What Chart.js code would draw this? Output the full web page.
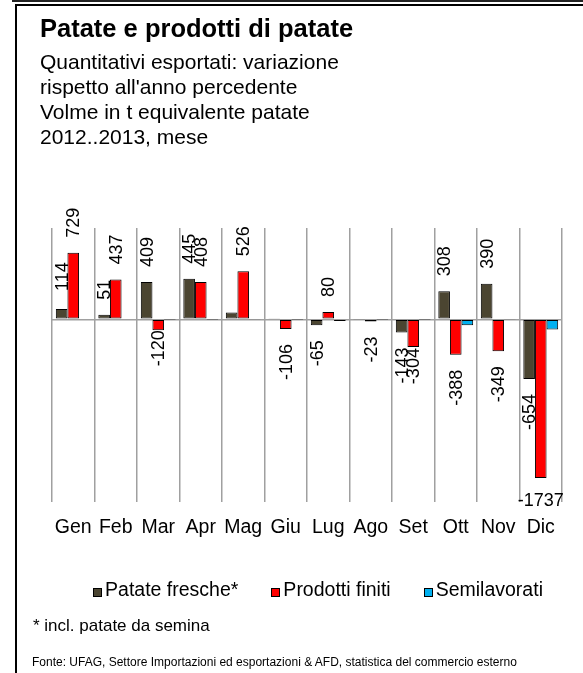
<!DOCTYPE html>
<html><head><meta charset="utf-8">
<script src="https://cdn.jsdelivr.net/npm/chart.js@4.4.0/dist/chart.umd.min.js"></script>
<style>
html,body{margin:0;padding:0;background:#fff;}
body{width:583px;height:673px;position:relative;overflow:hidden;font-family:"Liberation Sans",Arial,sans-serif;color:#000;}
#frameOuter{position:absolute;left:12px;top:0;width:571px;height:2px;background:#222;}
#frameInner{position:absolute;left:15px;top:4px;width:580px;height:700px;border-top:2px solid #000;border-left:2px solid #000;}
#wrap{position:absolute;left:0;top:0;width:583px;height:673px;}
.t{position:absolute;left:40px;white-space:nowrap;}
#title{top:12.7px;font-size:25.5px;font-weight:bold;line-height:30px;}
#sub{top:48.5px;font-size:21px;line-height:25px;}
#note{position:absolute;left:33px;top:616px;font-size:17px;line-height:20px;white-space:nowrap;}
#src{position:absolute;left:32px;top:655px;font-size:12px;line-height:14px;white-space:nowrap;}
</style></head><body>
<div id="frameOuter"></div>
<div id="frameInner"></div>
<div id="wrap"><canvas id="c" width="583" height="673"></canvas></div>
<div class="t" id="title">Patate e prodotti di patate</div>
<div class="t" id="sub">Quantitativi esportati: variazione<br>rispetto all'anno percedente<br>Volme in t equivalente patate<br>2012..2013, mese</div>
<div id="note">* incl. patate da semina</div>
<div id="src">Fonte: UFAG, Settore Importazioni ed esportazioni &amp; AFD, statistica del commercio esterno</div>
<script>
const months = ['Gen','Feb','Mar','Apr','Mag','Giu','Lug','Ago','Set','Ott','Nov','Dic'];
const seriesNames = ['Patate fresche*','Prodotti finiti','Semilavorati'];
const patateFresche = [114, 51, 409, 445, 75, 12, -65, -4, -143, 308, 390, -654];
const prodottiFiniti = [729, 437, -120, 408, 526, -106, 80, -23, -304, -388, -349, -1737];
const semilavorati = [-8, -7, -2, -1, -4, -2, -17, -2, -3, -65, -4, -112];
const labelsFresche = ['114','51','409','445',null,null,'-65',null,'-143','308','390','-654'];
const labelsFiniti = ['729','437','-120','408','526','-106','80','-23','-304','-388','-349','-1737'];
const labelsSemi = [null,null,null,null,null,null,null,null,null,null,null,null];
const yMin = -2000, yMax = 1000;

const colors = ['#4b4531','#ff0000','#00b0f0'];
const FONT = '"Liberation Sans", Arial, sans-serif';

// label placement tweaks (style only)
const labelTweaks = { '0:0': {gap: 18}, '1:2': {gap: 0}, '1:8': {gap: 1}, '1:11': {horizontal: true, gap: 23} };

const dataLabels = {
  id: 'dataLabels',
  afterDatasetsDraw(chart) {
    const ctx = chart.ctx;
    ctx.save();
    ctx.font = '18px ' + FONT;
    ctx.fillStyle = '#000';
    chart.data.datasets.forEach((ds, di) => {
      const meta = chart.getDatasetMeta(di);
      ds.valueLabels.forEach((txt, i) => {
        if (txt == null) return;
        const el = meta.data[i];
        const v = ds.data[i];
        const tw = labelTweaks[di + ':' + i] || {};
        const gap = tw.gap != null ? tw.gap : 15;
        if (tw.horizontal) {
          ctx.textAlign = 'center'; ctx.textBaseline = 'middle';
          ctx.fillText(txt, el.x, el.y + gap);
          return;
        }
        ctx.save();
        ctx.translate(el.x, el.y);
        ctx.rotate(-Math.PI / 2);
        ctx.textBaseline = 'middle';
        if (v >= 0) { ctx.textAlign = 'left'; ctx.fillText(txt, gap, 1); }
        else { ctx.textAlign = 'right'; ctx.fillText(txt, -gap, 1); }
        ctx.restore();
      });
    });
    ctx.restore();
  }
};

// legend drawn from the chart's own datasets
const customLegend = {
  id: 'customLegend',
  afterDraw(chart, args, o) {
    const ctx = chart.ctx;
    ctx.save();
    ctx.font = o.fontSize + 'px ' + FONT;
    const items = chart.data.datasets.map(ds => ({ text: ds.label, color: ds.backgroundColor, w: ctx.measureText(ds.label).width }));
    const total = items.reduce((s, it) => s + o.box + o.boxGap + it.w, 0) + o.itemGap * (items.length - 1);
    let x = o.centerX - total / 2;
    const y = o.centerY;
    items.forEach(it => {
      const by = Math.round(y - o.box / 2 + 1);
      const bx = Math.round(x);
      ctx.fillStyle = it.color; ctx.fillRect(bx, by, o.box, o.box);
      ctx.strokeStyle = '#000'; ctx.lineWidth = 1; ctx.strokeRect(bx + 0.5, by + 0.5, o.box - 1, o.box - 1);
      x += o.box + o.boxGap;
      ctx.fillStyle = '#000'; ctx.textAlign = 'left'; ctx.textBaseline = 'middle';
      ctx.fillText(it.text, x, y);
      x += it.w + o.itemGap;
    });
    ctx.restore();
  }
};

const mk = (label, data, color, vl) => ({
  label, data, backgroundColor: color, borderColor: '#000', borderWidth: 1,
  borderSkipped: false, categoryPercentage: 0.82, barPercentage: 1, valueLabels: vl
});

new Chart(document.getElementById('c'), {
  type: 'bar',
  data: {
    labels: months,
    datasets: [
      mk(seriesNames[0], patateFresche, colors[0], labelsFresche),
      mk(seriesNames[1], prodottiFiniti, colors[1], labelsFiniti),
      mk(seriesNames[2], semilavorati, colors[2], labelsSemi)
    ]
  },
  options: {
    responsive: false, animation: false, devicePixelRatio: 1,
    layout: { padding: { left: 52, right: 21, top: 228, bottom: 119.6 } },
    scales: {
      x: {
        grid: { color: '#a0a0a0', lineWidth: 1.5, drawTicks: false, offset: true },
        border: { display: false },
        ticks: { color: '#000', font: { family: FONT, size: 19.5 }, padding: 14, maxRotation: 0, autoSkip: false }
      },
      y: {
        min: yMin, max: yMax,
        ticks: { display: false, stepSize: 1000 },
        grid: { drawTicks: false, lineWidth: 1.5, color: c => c.tick && c.tick.value === 0 ? '#a0a0a0' : 'rgba(0,0,0,0)' },
        border: { display: false }
      }
    },
    plugins: {
      legend: { display: false },
      customLegend: { centerX: 318, centerY: 591, box: 9, boxGap: 3, itemGap: 33, fontSize: 19.5 },
      tooltip: { enabled: false },
      title: { display: false }
    }
  },
  plugins: [dataLabels, customLegend]
});
</script>
</body></html>
